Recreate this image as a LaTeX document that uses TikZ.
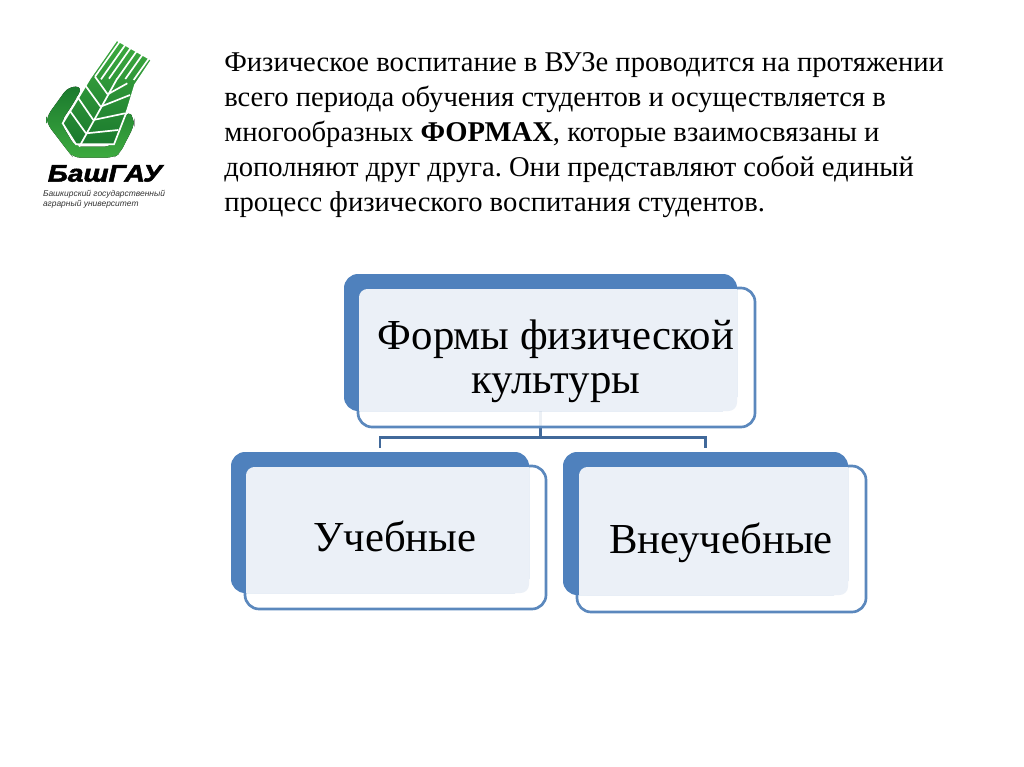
\documentclass[tikz,border=0pt]{standalone}
\usepackage{fontspec}
\setmainfont{Liberation Serif}
\newfontfamily\logofont[BoldItalicFeatures={FakeBold=2}]{Liberation Sans}
\usepackage{xcolor}
\usetikzlibrary{arrows.meta,calc,positioning,backgrounds}
\definecolor{band}{HTML}{4F81BD}
\definecolor{pale}{HTML}{EBF0F7}
\definecolor{rim}{HTML}{5B88BD}
\definecolor{wire}{HTML}{41699A}
\definecolor{leafdark}{HTML}{1B7A2E}
\definecolor{leaflight}{HTML}{3DAA3F}
\newcommand{\squarecorners}[1]{\fill[pale] ($(#1.north east)+(-12,0)$) rectangle ($(#1.north east)+(0,12)$); \fill[pale] ($(#1.south west)+(0,-12)$) rectangle ($(#1.south west)+(12,0)$);}
\tikzset{boxsize/.style 2 args={minimum width=#1*0.025cm,minimum height=#2*0.025cm},outerbox/.style={draw=rim,fill=white,fill opacity=.9,line width=1.9pt,rounded corners=10pt},backbox/.style={fill=band,rounded corners=10pt},innerbox/.style={fill=pale,rounded corners=6pt},boxlabel/.style={font=\fontsize{30.4}{31}\selectfont,align=center,text=black},linkline/.style={draw=wire,line width=1.9pt},seam/.style={white,line width=1.2pt}}

\begin{document}
\frenchspacing
\begin{tikzpicture}[x=.025cm,y=-.025cm]
\useasboundingbox (0,0) rectangle (1024,767);
% main box
\node[outerbox,boxsize={397}{139}] (main) at (556.5,357.5) {};
\node[backbox,boxsize={393}{137}] (mainback) at (540.5,342.5) {};
\node[innerbox,boxsize={378}{122}] (maininner) at (548,350) {};
\squarecorners{maininner}
\node[boxlabel] (maintext) at (556,361) {Формы физической\\культуры};
% left box
\node[outerbox,boxsize={301}{143}] (study) at (395.5,537.5) {};
\node[backbox,boxsize={298}{141}] (studyback) at (380,522.5) {};
\node[innerbox,boxsize={283}{126}] (studyinner) at (387.5,530) {};
\squarecorners{studyinner}
\node[boxlabel] (studytext) at (395,536) {Учебные};
% right box
\node[outerbox,boxsize={289}{146}] (extra) at (721.5,539) {};
\node[backbox,boxsize={285}{143}] (extraback) at (705.5,523.5) {};
\node[innerbox,boxsize={269}{128}] (extrainner) at (713.5,531) {};
\squarecorners{extrainner}
\node[boxlabel] (extratext) at (721,543) {Внеучебные};
% connector goes under all the boxes
\begin{scope}[on background layer]
\draw[linkline] (mainback.south) -- ++(0,26) coordinate (fork);
\draw[linkline,shorten >=3pt] (fork) -| (studyback.north);
\draw[linkline,shorten >=3pt] (fork) -| (extraback.north);
\end{scope}
% text at top
\node[anchor=north west,align=left,inner sep=0pt,font=\fontsize{20.35}{25}\selectfont] (intro) at (224,52) {Физическое воспитание в ВУЗе проводится на протяжении\\всего периода обучения студентов и осуществляется в\\многообразных \textbf{ФОРМАХ}, которые взаимосвязаны и\\дополняют друг друга. Они представляют собой единый\\процесс физического воспитания студентов.};
% logo, in thirds of a pixel from its corner
\begin{scope}[shift={(40,35)},x=.008333cm,y=-.008333cm]
\fill[top color=leafdark,bottom color=leaflight,rounded corners=5pt] (128,155)--(85,155)--(20,245)--(20,265)--(85,350)--(100,368)--(220,368)--(240,355)--(283,270)--(283,255)--(265,225)--(250,262)--(215,335)--(105,335)--(62,262)--(100,205)--cycle;
\fill[top color=leaflight,bottom color=leafdark,draw=white,line width=1.2pt] (230,15)--(335,75)--(285,150)--(262,225)--(222,328)--(108,328)--(68,265)--(105,205)--(150,130)--cycle;
\draw[seam] (118,335)--(232,130);
\draw[seam] (138,295)--(235,285);
\draw[seam] (160,255)--(255,235);
\draw[seam] (182,215)--(270,180);
\draw[seam] (203,178)--(262,145);
\draw[seam] (138,295)--(90,228);
\draw[seam] (160,255)--(112,185);
\draw[seam] (182,215)--(135,150);
\draw[seam] (203,178)--(165,125);
\draw[seam] (239,20)--(165,125);
\draw[seam] (257,28)--(183,133);
\draw[seam] (274,36)--(207,131);
\draw[seam] (292,46)--(232,131);
\draw[seam] (309,57)--(256,132);
\draw[seam] (327,70)--(281,135);
\end{scope}
\node[inner sep=0pt,font=\logofont\bfseries\itshape\fontsize{17}{17}\selectfont,xscale=1.18] (logoname) at (105,173.5) {БашГАУ};
\node[inner sep=0pt,font=\logofont\itshape\fontsize{6}{7.2}\selectfont,align=left,text=black!80] (logosub) at (104,199) {Башкирский государственный\\аграрный университет};
\end{tikzpicture}
\end{document}
